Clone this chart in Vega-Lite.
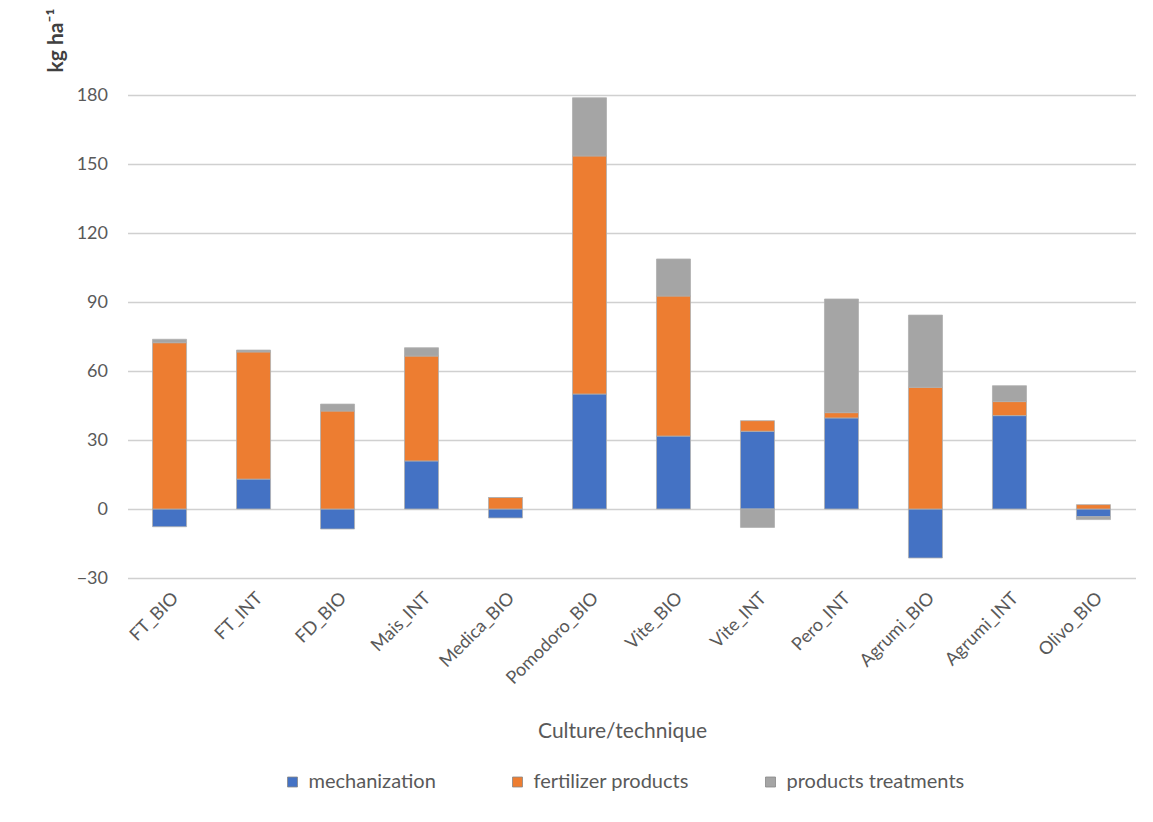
{
  "$schema": "https://vega.github.io/schema/vega-lite/v6.json",
  "autosize": "none",
  "width": 1008,
  "height": 483,
  "padding": {"left": 127.5, "top": 95, "right": 17.5, "bottom": 244},
  "background": "white",
  "config": {
    "font": "Lato",
    "view": {"stroke": null}
  },
  "data": {
    "values": [
      {"culture": "FT_BIO", "series": "mechanization", "value": -7.7},
      {"culture": "FT_BIO", "series": "fertilizer products", "value": 72.3},
      {"culture": "FT_BIO", "series": "products treatments", "value": 1.5},
      {"culture": "FT_INT", "series": "mechanization", "value": 13.0},
      {"culture": "FT_INT", "series": "fertilizer products", "value": 55.3},
      {"culture": "FT_INT", "series": "products treatments", "value": 0.8},
      {"culture": "FD_BIO", "series": "mechanization", "value": -8.7},
      {"culture": "FD_BIO", "series": "fertilizer products", "value": 42.6},
      {"culture": "FD_BIO", "series": "products treatments", "value": 3.0},
      {"culture": "Mais_INT", "series": "mechanization", "value": 20.9},
      {"culture": "Mais_INT", "series": "fertilizer products", "value": 45.6},
      {"culture": "Mais_INT", "series": "products treatments", "value": 3.6},
      {"culture": "Medica_BIO", "series": "mechanization", "value": -3.9},
      {"culture": "Medica_BIO", "series": "fertilizer products", "value": 5.0},
      {"culture": "Medica_BIO", "series": "products treatments", "value": 0},
      {"culture": "Pomodoro_BIO", "series": "mechanization", "value": 50.0},
      {"culture": "Pomodoro_BIO", "series": "fertilizer products", "value": 103.5},
      {"culture": "Pomodoro_BIO", "series": "products treatments", "value": 25.3},
      {"culture": "Vite_BIO", "series": "mechanization", "value": 31.7},
      {"culture": "Vite_BIO", "series": "fertilizer products", "value": 60.9},
      {"culture": "Vite_BIO", "series": "products treatments", "value": 16.1},
      {"culture": "Vite_INT", "series": "mechanization", "value": 33.8},
      {"culture": "Vite_INT", "series": "fertilizer products", "value": 4.6},
      {"culture": "Vite_INT", "series": "products treatments", "value": -8.0},
      {"culture": "Pero_INT", "series": "mechanization", "value": 39.6},
      {"culture": "Pero_INT", "series": "fertilizer products", "value": 2.3},
      {"culture": "Pero_INT", "series": "products treatments", "value": 49.4},
      {"culture": "Agrumi_BIO", "series": "mechanization", "value": -21.3},
      {"culture": "Agrumi_BIO", "series": "fertilizer products", "value": 52.9},
      {"culture": "Agrumi_BIO", "series": "products treatments", "value": 31.4},
      {"culture": "Agrumi_INT", "series": "mechanization", "value": 40.6},
      {"culture": "Agrumi_INT", "series": "fertilizer products", "value": 6.1},
      {"culture": "Agrumi_INT", "series": "products treatments", "value": 6.9},
      {"culture": "Olivo_BIO", "series": "mechanization", "value": -3.4},
      {"culture": "Olivo_BIO", "series": "fertilizer products", "value": 1.9},
      {"culture": "Olivo_BIO", "series": "products treatments", "value": -1.2}
    ]
  },
  "transform": [
    {"calculate": "indexof(['mechanization','fertilizer products','products treatments'], datum.series)", "as": "stackorder"}
  ],
  "mark": {"type": "bar", "stroke": "#b0b0b0", "strokeWidth": 0.8},
  "encoding": {
    "x": {
      "field": "culture",
      "type": "nominal",
      "sort": null,
      "scale": {"paddingInner": 0.595, "paddingOuter": 0.298},
      "axis": {
        "title": "Culture/technique",
        "titleFontSize": 21,
        "titleFontWeight": "normal",
        "titleColor": "#595959",
        "titleX": 494.5,
        "titleY": 153,
        "titleBaseline": "middle",
        "labelAngle": -45,
        "labelFontSize": 18,
        "labelColor": "#595959",
        "labelPadding": 11,
        "domain": false,
        "ticks": false,
        "grid": false
      }
    },
    "y": {
      "field": "value",
      "type": "quantitative",
      "stack": "zero",
      "scale": {"domain": [-30, 180], "nice": false},
      "axis": {
        "values": [-30, 0, 30, 60, 90, 120, 150, 180],
        "title": "kg ha⁻¹",
        "titleFontSize": 21,
        "titleFontWeight": "bold",
        "titleColor": "#404040",
        "titleAngle": -90,
        "titleAlign": "left",
        "titleBaseline": "middle",
        "titleX": -71,
        "titleY": -23,
        "labelFontSize": 18,
        "labelColor": "#595959",
        "labelPadding": 20,
        "domain": false,
        "ticks": false,
        "grid": true,
        "gridColor": "#d0d0d0",
        "gridWidth": 1.5
      }
    },
    "color": {
      "field": "series",
      "type": "nominal",
      "scale": {
        "domain": ["mechanization", "fertilizer products", "products treatments"],
        "range": ["#4472C4", "#ED7D31", "#A5A5A5"]
      },
      "legend": {
        "title": null,
        "orient": "none",
        "direction": "horizontal",
        "legendX": 155,
        "legendY": 677,
        "symbolType": "square",
        "symbolSize": 100,
        "symbolStrokeWidth": 0.8,
        "symbolStrokeColor": "#888888",
        "labelFontSize": 20,
        "labelColor": "#595959",
        "labelOffset": 6,
        "labelLimit": 400,
        "columnPadding": 71
      }
    },
    "order": {"field": "stackorder", "type": "quantitative", "sort": "ascending"}
  }
}
